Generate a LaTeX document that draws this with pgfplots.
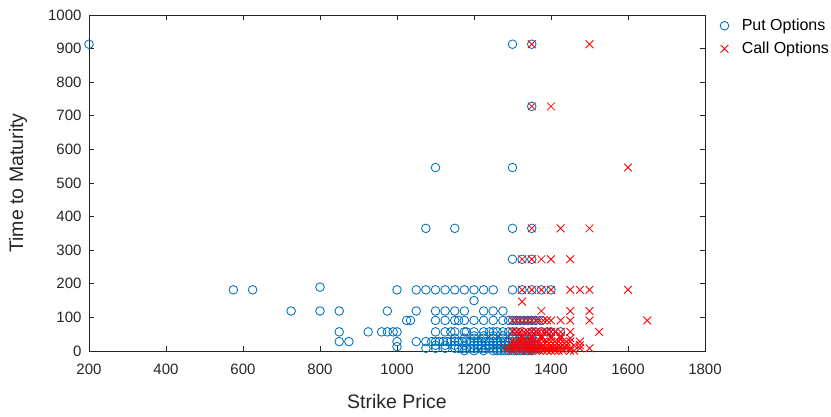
\documentclass[border=0pt]{standalone}
\usepackage{fontspec}
\setmainfont{Liberation Sans}
\usepackage{pgfplots}
\pgfplotsset{compat=1.18}
\definecolor{mblue}{rgb}{0,0.447,0.741}
\definecolor{axgray}{rgb}{0.15,0.15,0.15}
\begin{document}
\begin{tikzpicture}[x=1pt,y=1pt]
\useasboundingbox (-89,-66) rectangle (742,351);
\begin{axis}[
  scale only axis, width=616pt, height=336pt,
  xmin=200, xmax=1800, ymin=0, ymax=1000,
  xtick={200,400,...,1800}, ytick={0,100,...,1000},
  tick align=inside, major tick length=5pt,
  axis line style={axgray, line width=0.8pt},
  tick style={axgray, line width=0.8pt},
  clip=false,
  /pgf/number format/assume math mode=true,
  /pgf/number format/1000 sep={},
  ticklabel style={font=\fontsize{15}{18}\selectfont, text=axgray},
  xticklabel style={yshift=-9pt},
  yticklabel style={xshift=-4pt},
  label style={font=\fontsize{19.5}{23}\selectfont, text=axgray},
  xlabel={Strike Price}, ylabel={Time to Maturity},
  xlabel style={at={(axis description cs:0.5,-0.1518)}, anchor=center},
  ylabel style={at={(axis description cs:-0.1153,0.5)}, anchor=center},
  legend cell align=left,
  legend style={draw=none, fill=none, at={(1,1)}, anchor=north west,
    xshift=12pt, yshift=0pt, font=\fontsize{16}{18}\selectfont, column sep=11pt, row sep=6pt},
  legend image code/.code={\draw[#1] plot coordinates {(0pt,0pt)};},
]
\addplot[only marks, mark=o, mark size=4.3pt, line width=0.85pt, color=mblue] coordinates {
(200,913)(1300,913)(1350,913)
(1350,728)
(1100,546)(1300,546)
(1075,365)(1150,365)(1300,365)(1350,365)
(1300,273)(1325,273)(1350,273)
(800,190)
(575,182)(625,182)(1000,182)(1050,182)(1075,182)(1100,182)(1125,182)(1150,182)(1175,182)(1200,182)(1225,182)(1250,182)(1300,182)(1325,182)(1350,182)(1375,182)(1400,182)
(1200,150)
(725,119)(800,119)(850,119)(975,119)(1050,119)(1100,119)(1125,119)(1150,119)(1175,119)(1225,119)(1250,119)(1275,119)
(1025,91)(1035,91)(1100,91)(1125,91)(1150,91)(1160,91)(1175,91)(1200,91)(1225,91)(1250,91)(1275,91)(1290,91)(1300,91)(1310,91)(1320,91)(1330,91)(1340,91)(1350,91)(1360,91)(1375,91)
(850,57)(925,57)(960,57)(975,57)(990,57)(1000,57)(1100,57)(1125,57)(1140,57)(1150,57)(1175,57)(1180,57)(1200,57)(1225,57)(1240,57)(1250,57)(1260,57)(1275,57)(1290,57)(1300,57)(1310,57)(1325,57)(1350,57)(1360,57)(1375,57)(1390,57)(1400,57)(1425,57)
(1200,45)(1225,45)(1250,45)(1275,45)(1300,45)(1325,45)(1350,45)
(1150,38)(1175,38)(1200,38)(1225,38)(1250,38)(1275,38)(1300,38)(1325,38)(1350,38)
(850,28)(875,28)(1000,28)(1050,28)(1075,28)(1090,28)(1100,28)(1110,28)(1120,28)(1130,28)(1140,28)(1150,28)(1160,28)(1170,28)(1180,28)(1190,28)(1200,28)(1210,28)(1220,28)(1230,28)(1240,28)(1250,28)(1260,28)(1270,28)(1280,28)(1290,28)(1300,28)(1310,28)(1320,28)(1330,28)(1340,28)(1350,28)(1360,28)(1375,28)
(1000,13)(1100,17)(1125,17)(1150,17)(1175,17)(1200,17)(1210,17)(1220,17)(1230,17)(1240,17)(1250,17)(1260,17)(1270,17)(1280,17)(1290,17)(1300,17)(1310,17)(1320,17)(1330,17)(1340,17)(1350,17)(1360,17)
(1075,8)(1100,8)(1125,8)(1150,8)(1160,8)(1170,8)(1180,8)(1190,8)(1200,8)(1210,8)(1220,8)(1230,8)(1240,8)(1250,8)(1260,8)(1270,8)(1280,8)(1290,8)(1300,8)(1310,8)(1320,8)(1330,8)(1340,8)(1350,8)(1360,8)(1370,8)
(1175,1)(1200,1)(1225,1)(1250,1)(1260,1)(1270,1)(1280,1)(1290,1)(1300,1)(1310,1)(1320,1)(1330,1)(1340,1)(1350,1)
};
\addlegendentry{Put Options}
\addplot[only marks, mark=x, mark size=5.5pt, line width=0.85pt, color=red] coordinates {
(1350,913)(1500,913)
(1350,728)(1400,728)
(1600,546)
(1350,365)(1425,365)(1500,365)
(1325,273)(1350,273)(1375,273)(1400,273)(1450,273)
(1325,182)(1350,182)(1375,182)(1400,182)(1450,182)(1475,182)(1500,182)(1600,182)
(1325,147)
(1375,119)(1450,119)(1500,119)
(1300,91)(1310,91)(1320,91)(1330,91)(1340,91)(1350,91)(1360,91)(1370,91)(1380,91)(1390,91)(1400,91)(1425,91)(1450,91)(1500,91)(1650,91)
(1300,57)(1310,57)(1320,57)(1330,57)(1340,57)(1350,57)(1360,57)(1370,57)(1380,57)(1390,57)(1400,57)(1410,57)(1425,57)(1450,57)(1525,57)
(1325,45)(1350,45)(1375,45)(1400,45)(1425,45)
(1325,38)(1350,38)(1375,38)(1400,38)(1425,38)(1450,38)
(1300,28)(1310,28)(1320,28)(1330,28)(1340,28)(1350,28)(1360,28)(1370,28)(1380,28)(1390,28)(1400,28)(1410,28)(1420,28)(1430,28)(1440,28)(1450,28)(1475,28)
(1300,17)(1310,17)(1320,17)(1330,17)(1340,17)(1350,17)(1360,17)(1370,17)(1380,17)(1390,17)(1400,17)(1410,17)(1420,17)(1430,17)(1440,17)(1460,17)(1475,17)
(1280,8)(1290,8)(1300,8)(1310,8)(1320,8)(1330,8)(1340,8)(1350,8)(1360,8)(1370,8)(1380,8)(1390,8)(1400,8)(1410,8)(1420,8)(1430,8)(1440,8)(1450,8)(1475,8)(1500,8)
(1300,1)(1320,1)(1340,1)(1350,1)(1360,1)(1370,1)(1380,1)(1390,1)(1400,1)(1410,1)(1420,1)(1430,1)(1450,1)(1460,1)
};
\addlegendentry{Call Options}
\end{axis}
\end{tikzpicture}
\end{document}
